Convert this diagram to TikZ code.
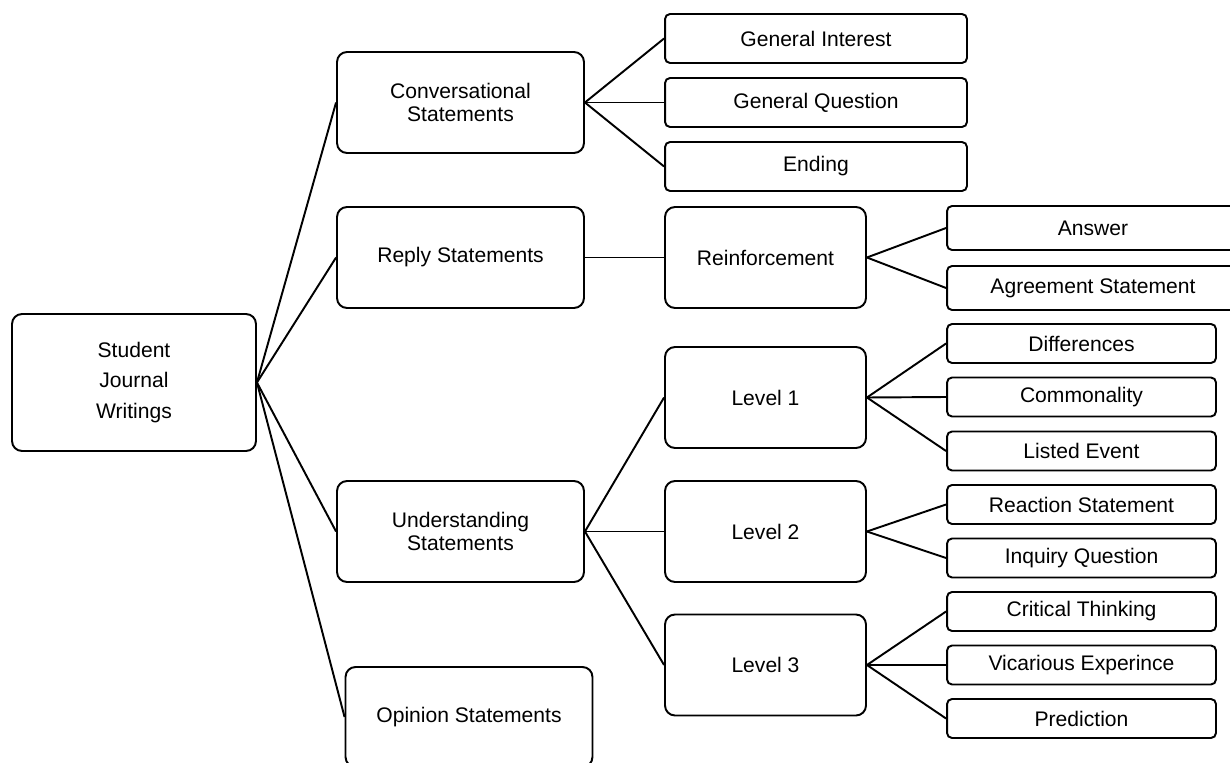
\documentclass[tikz,border=0pt]{standalone}
\usepackage{fontspec}
\setmainfont{Liberation Sans}

\begin{document}
\begin{tikzpicture}[x=0.02cm, y=-0.02cm, line width=1.1pt,
  font=\fontsize{12}{13}\selectfont,
  big/.style={draw, rounded corners=0.2cm, align=center, inner sep=0pt,
    minimum width=4.94cm, minimum height=2.02cm},
  lvl/.style={big, minimum width=4.02cm},
  leaf/.style={draw, rounded corners=0.1cm, inner sep=0pt,
    minimum width=5.38cm, minimum height=0.78cm}]

\useasboundingbox (0,0) rectangle (1230,763);
\clip (0,0) rectangle (1230,763);

%Root
\node[big, minimum width=4.88cm, minimum height=2.74cm, font=\fontsize{12}{17.5}\selectfont] (stu) at (134,382.5) {Student\\Journal\\Writings};

%Statements
\node[big] (conv) at (460.5,102.5) {Conversational\\Statements};
\node[big] (reply) at (460.5,257.5) {Reply Statements};
\node[big] (und) at (460.5,531.5) {Understanding\\Statements};
\node[big, minimum height=2cm] (opin) at (469,717) {Opinion Statements};

%Conversational
\node[leaf, minimum width=6.04cm, minimum height=0.98cm] (gi) at (816,38.5) {General Interest};
\node[leaf, minimum width=6.04cm, minimum height=0.98cm] (gq) at (816,102.5) {General Question};
\node[leaf, minimum width=6.04cm, minimum height=0.98cm] (end) at (816,166.5) {Ending};

%Reply
\node[lvl] (reinf) at (765.5,257.5) {Reinforcement};
\node[leaf, minimum width=5.84cm, minimum height=0.88cm] (ans) at (1093,228) {Answer};
\node[leaf, minimum width=5.84cm, minimum height=0.88cm] (agr) at (1093,288) {Agreement Statement};

%Understanding
\node[lvl] (lv1) at (765.5,397.5) {Level 1};
\node[lvl] (lv2) at (765.5,531.5) {Level 2};
\node[lvl] (lv3) at (765.5,665) {Level 3};

\node[leaf] (dif) at (1081.5,343.5) {Differences};
\node[leaf] (com) at (1081.5,397) {Commonality};
\node[leaf] (lis) at (1081.5,451) {Listed Event};
\node[leaf] (rea) at (1081.5,504.5) {Reaction Statement};
\node[leaf] (inq) at (1081.5,558) {Inquiry Question};
\node[leaf] (cri) at (1081.5,611.5) {Critical Thinking};
\node[leaf] (vic) at (1081.5,665) {Vicarious Experince};
\node[leaf] (pre) at (1081.5,718.5) {Prediction};

% Connectors
\foreach \from/\to in {stu/conv, stu/reply, stu/und, stu/opin,
  conv/gi, conv/gq, conv/end, reply/reinf, reinf/ans, reinf/agr,
  und/lv1, und/lv2, und/lv3, lv1/dif, lv1/com, lv1/lis,
  lv2/rea, lv2/inq, lv3/cri, lv3/vic, lv3/pre}
\draw (\from.east) -- (\to.west);

\end{tikzpicture}
\end{document}
